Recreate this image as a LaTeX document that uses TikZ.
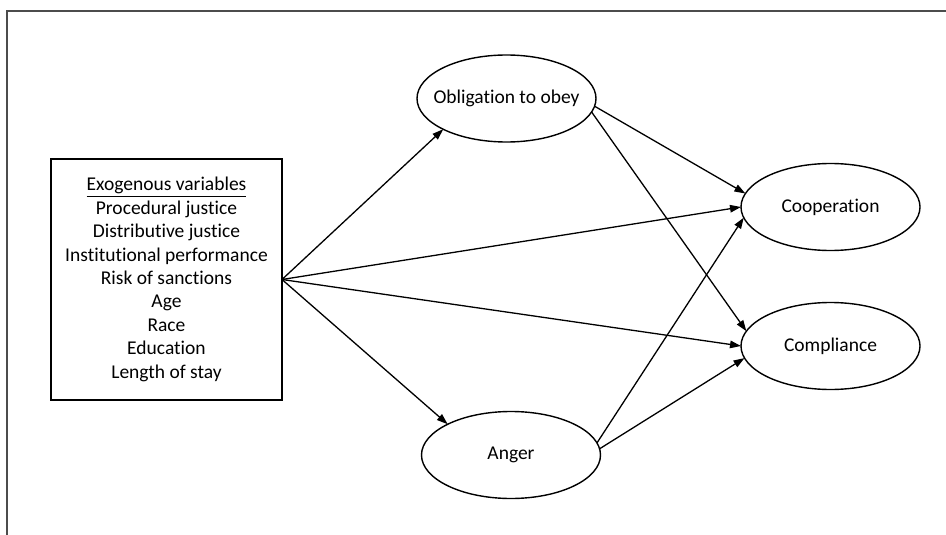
\documentclass[tikz,border=0pt]{standalone}
\usepackage{fontspec}
\setmainfont{Carlito}[Ligatures=NoCommon]
\usetikzlibrary{arrows.meta, shapes.geometric}

\begin{document}
\begin{tikzpicture}[
    x=1pt, y=-1pt,
    var/.style={draw, ellipse, line width=1.4pt, inner xsep=-30pt, inner ysep=0pt, outer sep=0pt,
                minimum width=179pt, minimum height=87pt, font=\fontsize{19.5}{23}\selectfont},
    exo/.style={draw, line width=1.5pt, inner sep=0pt, outer sep=0pt, align=center,
                minimum width=231pt, minimum height=241pt,
                font=\fontsize{19.5}{23.4}\selectfont},
    path/.style={line width=1.3pt, -{Triangle[length=11pt, width=7.5pt]}},
    frame/.style={draw=black!70, line width=1.6pt}
  ]
  \useasboundingbox (0,0) rectangle (946,535);
  \draw[frame] (946,11) -- (7,11) -- (7,535);

  % exogenous block
  \node[exo] (exo) at (166.5, 279.5)
    {\underline{Exogenous variables}\\ Procedural justice\\ Distributive justice\\
     Institutional performance\\ Risk of sanctions\\ Age\\ Race\\ Education\\
     Length of stay};

  % mediators
  \node[var] (oblig) at (506.5, 98.5) {Obligation to obey};
  \node[var] (anger) at (511, 455) {Anger};

  % outcomes
  \node[var] (coop) at (830.5, 207) {Cooperation};
  \node[var] (comp) at (830.5, 346) {Compliance};

  % paths
  \draw[path] (exo.east) -- (oblig.south west);
  \draw[path] (exo.east) -- (anger.north west);
  \draw[path] (exo.east) -- (coop.west);
  \draw[path] (exo.east) -- (comp.west);
  \draw[path] (oblig.-5.5) -- (coop.171);
  \draw[path] (oblig.-9.6) -- (comp.170);
  \draw[path] (anger.8) -- (coop.187);
  \draw[path] (anger.4) -- (comp.188);
\end{tikzpicture}
\end{document}
